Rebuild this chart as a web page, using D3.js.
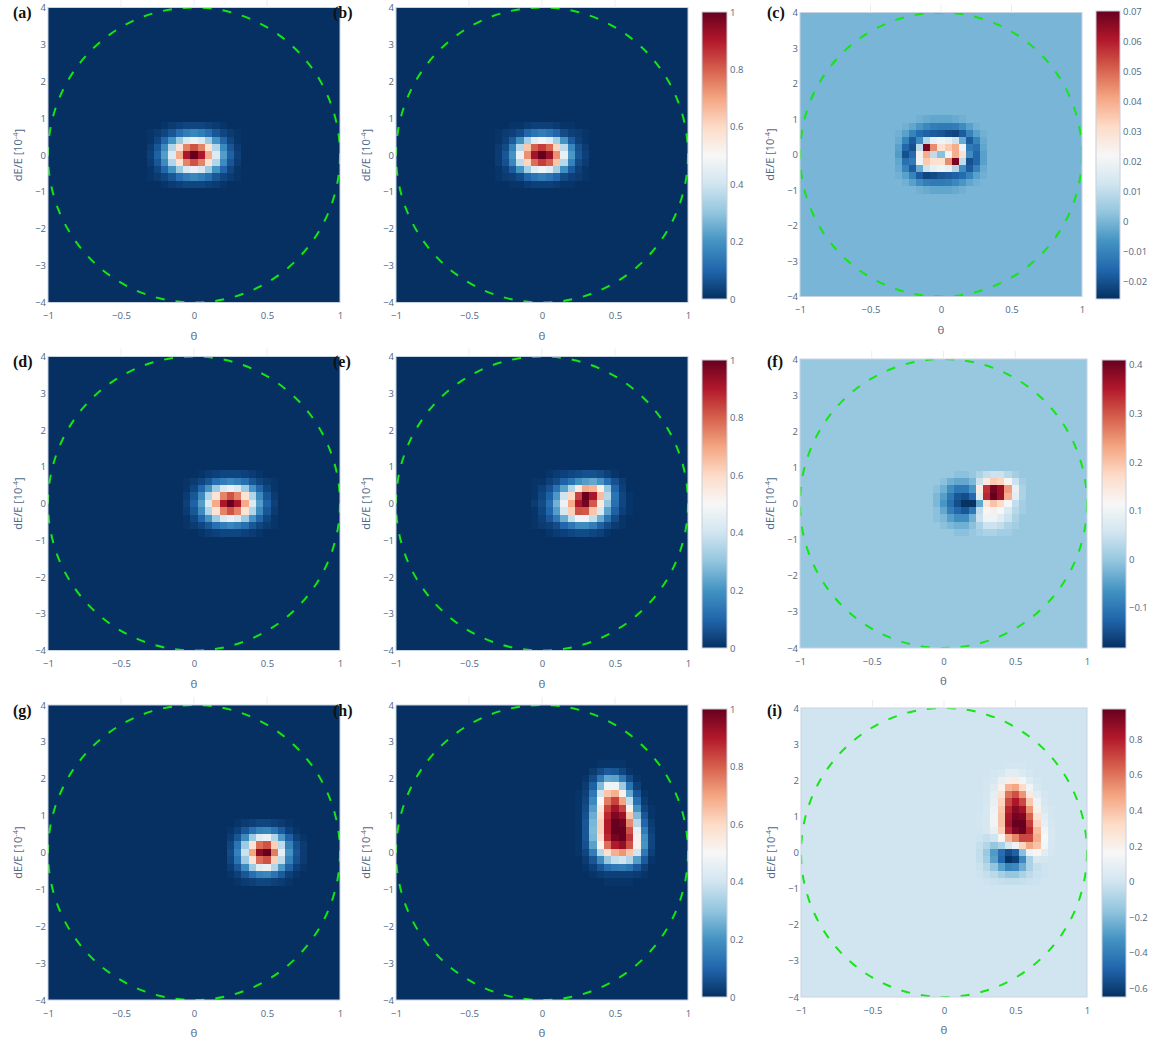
<!DOCTYPE html>
<html>
<head>
<meta charset="utf-8">
<script src="https://cdn.jsdelivr.net/npm/d3@7"></script>
<style>
  body { margin: 0; background: #fff; }
  svg text { font-family: "Open Sans", sans-serif; }
</style>
</head>
<body>
<script>
// axis ticks
const thetaTicks = [-1, -0.5, 0, 0.5, 1];
const dETicks = [-4, -3, -2, -1, 0, 1, 2, 3, 4];
const ticksUnit = [0, 0.2, 0.4, 0.6, 0.8, 1];
const ticksC = [-0.02, -0.01, 0, 0.01, 0.02, 0.03, 0.04, 0.05, 0.06, 0.07];
const ticksF = [-0.1, 0, 0.1, 0.2, 0.3, 0.4];
const ticksI = [-0.6, -0.4, -0.2, 0, 0.2, 0.4, 0.6, 0.8];

const panelNames = ["(a)", "(b)", "(c)", "(d)", "(e)", "(f)", "(g)", "(h)", "(i)"];

// heatmap cell size (theta, dE) and, per panel, centre of the first cell of the stored window
const cellTheta = 0.05;
const cellDE = 0.2;
const windowTheta = [-0.3, -0.3, -0.35, -0.05, -0.05, -0.05, 0.25, 0.25, 0.25];
const windowDE = [0.8, 0.8, 1.0, 0.8, 0.8, 0.8, 0.8, 2.4, 2.4];
// stored integers are multiplied by this
const gridUnit = [0.01, 0.01, 0.001, 0.01, 0.01, 0.01, 0.01, 0.01, 0.01];
// colour range of each panel
const colorMin = [0, 0, -0.0258, 0, 0, -0.1825, 0, 0, -0.648];
const colorMax = [1, 1, 0.0702, 1, 1, 0.41, 1, 1, 0.97];

// rows go from high dE to low dE, columns from low theta to high theta
const gridA = [
  [0, 0, 1, 2, 3, 4, 4, 4, 3, 2, 1, 0, 0],
  [1, 2, 4, 7, 12, 15, 17, 15, 12, 7, 4, 2, 1],
  [1, 4, 10, 20, 32, 42, 46, 42, 32, 20, 10, 4, 1],
  [2, 7, 18, 35, 57, 75, 82, 75, 57, 35, 18, 7, 2],
  [3, 9, 22, 43, 69, 91, 100, 91, 69, 43, 22, 9, 3],
  [2, 7, 18, 35, 57, 75, 82, 75, 57, 35, 18, 7, 2],
  [1, 4, 10, 20, 32, 42, 46, 42, 32, 20, 10, 4, 1],
  [1, 2, 4, 7, 12, 15, 17, 15, 12, 7, 4, 2, 1],
  [0, 0, 1, 2, 3, 4, 4, 4, 3, 2, 1, 0, 0]
];
const gridB = [
  [0, 0, 1, 1, 2, 3, 3, 3, 2, 1, 1, 0, 0],
  [1, 2, 3, 5, 10, 13, 15, 13, 10, 5, 3, 2, 1],
  [1, 3, 8, 19, 33, 44, 48, 44, 33, 20, 8, 3, 1],
  [2, 5, 16, 36, 64, 80, 85, 79, 61, 37, 17, 6, 2],
  [2, 7, 20, 46, 73, 92, 100, 93, 73, 46, 21, 7, 3],
  [2, 6, 17, 37, 61, 78, 85, 80, 64, 36, 16, 5, 2],
  [1, 3, 8, 20, 33, 44, 48, 44, 33, 19, 8, 3, 1],
  [1, 2, 3, 5, 10, 13, 15, 13, 10, 5, 3, 2, 1],
  [0, 0, 1, 1, 2, 3, 3, 3, 2, 1, 1, 0, 0]
];
const gridC = [
  [0, 0, 0, 0, -1, -2, -3, -3, -3, -2, -1, 0, 0, 0, 0],
  [0, 0, -1, -3, -6, -9, -11, -12, -12, -11, -8, -4, -1, 0, 0],
  [0, -1, -4, -10, -15, -17, -18, -19, -21, -22, -18, -10, -4, -1, 0],
  [0, -2, -10, -18, -8, 8, 18, 20, 18, 12, -2, -18, -10, -2, 0],
  [0, -4, -16, -20, 10, 68, 45, 30, 35, 40, 20, -12, -14, -3, 0],
  [0, -5, -20, -15, 25, 40, 10, 2, 20, 40, 30, -8, -16, -4, 0],
  [0, -3, -14, -12, 20, 35, 30, 30, 45, 68, 10, -20, -16, -4, 0],
  [0, -2, -10, -18, -2, 12, 18, 20, 18, 8, -8, -18, -10, -2, 0],
  [0, -1, -4, -10, -18, -22, -21, -19, -18, -17, -15, -10, -4, -1, 0],
  [0, 0, -1, -4, -8, -11, -12, -12, -11, -9, -6, -3, -1, 0, 0],
  [0, 0, 0, 0, -1, -2, -3, -3, -3, -2, -1, 0, 0, 0, 0]
];
const gridD = [
  [0, 0, 1, 2, 3, 4, 4, 4, 3, 2, 1, 0, 0],
  [1, 2, 4, 7, 12, 15, 17, 15, 12, 7, 4, 2, 1],
  [1, 4, 10, 20, 32, 42, 46, 42, 32, 20, 10, 4, 1],
  [2, 7, 18, 35, 57, 75, 82, 75, 57, 35, 18, 7, 2],
  [3, 9, 22, 43, 69, 91, 100, 91, 69, 43, 22, 9, 3],
  [2, 7, 18, 35, 57, 75, 82, 75, 57, 35, 18, 7, 2],
  [1, 4, 10, 20, 32, 42, 46, 42, 32, 20, 10, 4, 1],
  [1, 2, 4, 7, 12, 15, 17, 15, 12, 7, 4, 2, 1],
  [0, 0, 1, 2, 3, 4, 4, 4, 3, 2, 1, 0, 0]
];
const gridE = [
  [0, 0, 1, 2, 3, 4, 5, 6, 6, 5, 3, 1, 0, 0, 0],
  [1, 1, 3, 5, 9, 13, 19, 22, 24, 20, 12, 6, 2, 0, 0],
  [1, 3, 6, 13, 23, 35, 54, 69, 67, 53, 30, 10, 3, 0, 0],
  [1, 4, 9, 21, 40, 60, 84, 100, 91, 66, 36, 13, 4, 1, 0],
  [2, 5, 12, 26, 47, 69, 91, 98, 81, 55, 30, 12, 4, 1, 0],
  [1, 4, 10, 22, 41, 62, 82, 81, 64, 42, 23, 9, 3, 1, 0],
  [1, 3, 7, 14, 25, 38, 48, 47, 38, 25, 13, 5, 1, 0, 0],
  [1, 2, 3, 5, 10, 14, 18, 18, 15, 9, 5, 2, 1, 0, 0],
  [0, 0, 1, 2, 3, 4, 5, 5, 4, 3, 1, 0, 0, 0, 0]
];
const gridF = [
  [0, 0, 0, -1, -1, 0, 2, 4, 5, 5, 3, 1, 0, 0],
  [0, -1, -3, -4, -4, -2, 5, 14, 19, 18, 12, 5, 1, 0],
  [-1, -3, -7, -10, -10, -6, 14, 33, 40, 37, 24, 9, 2, 0],
  [-2, -5, -10, -14, -15, -12, 8, 34, 41, 37, 22, 8, 2, 0],
  [-2, -6, -11, -15, -18, -18, -4, 15, 20, 17, 11, 4, 1, 0],
  [-1, -4, -9, -12, -14, -10, 4, 12, 13, 11, 7, 3, 1, 0],
  [-1, -2, -5, -7, -7, -3, 5, 10, 10, 8, 5, 2, 0, 0],
  [0, -1, -2, -3, -3, -1, 2, 5, 5, 4, 2, 1, 0, 0],
  [0, 0, 0, -1, -1, 0, 1, 2, 2, 1, 1, 0, 0, 0]
];
const gridG = [
  [0, 1, 2, 3, 4, 4, 3, 2, 1, 0, 0],
  [1, 3, 7, 12, 16, 17, 13, 8, 3, 1, 0],
  [2, 7, 18, 32, 44, 46, 35, 21, 9, 3, 1],
  [4, 13, 32, 57, 78, 82, 62, 37, 16, 6, 2],
  [5, 16, 39, 70, 95, 100, 76, 45, 20, 7, 2],
  [4, 13, 32, 57, 78, 82, 62, 37, 16, 6, 2],
  [2, 7, 18, 32, 44, 46, 35, 21, 9, 3, 1],
  [1, 3, 7, 12, 16, 17, 13, 8, 3, 1, 0],
  [0, 1, 2, 3, 4, 4, 3, 2, 1, 0, 0]
];
const gridH = [
  [0, 0, 0, 1, 1, 1, 1, 0, 0, 0, 0, 0],
  [0, 0, 2, 5, 8, 7, 4, 1, 0, 0, 0, 0],
  [0, 1, 5, 14, 24, 23, 14, 5, 1, 0, 0, 0],
  [0, 2, 9, 28, 48, 48, 32, 13, 3, 0, 0, 0],
  [1, 3, 14, 40, 64, 68, 52, 24, 7, 1, 0, 0],
  [1, 4, 18, 50, 76, 84, 70, 38, 12, 2, 0, 0],
  [1, 5, 22, 56, 84, 92, 84, 52, 20, 4, 1, 0],
  [1, 6, 25, 60, 88, 97, 93, 64, 28, 7, 1, 0],
  [1, 7, 27, 62, 90, 100, 98, 74, 36, 10, 2, 0],
  [1, 7, 28, 62, 90, 100, 100, 82, 46, 15, 3, 0],
  [1, 7, 27, 60, 88, 98, 100, 86, 52, 19, 4, 0],
  [1, 6, 23, 52, 78, 90, 94, 82, 52, 20, 4, 0],
  [1, 4, 15, 36, 58, 68, 72, 64, 40, 14, 3, 0],
  [0, 2, 7, 18, 31, 38, 40, 35, 22, 8, 1, 0],
  [0, 1, 3, 7, 12, 14, 15, 13, 8, 3, 0, 0],
  [0, 0, 1, 2, 3, 3, 3, 3, 2, 1, 0, 0],
  [0, 0, 0, 0, 1, 1, 1, 1, 0, 0, 0, 0]
];
const gridI = [
  [0, 0, 0, 0, 1, 1, 1, 0, 0, 0, 0, 0],
  [0, 0, 1, 3, 7, 7, 4, 1, 0, 0, 0, 0],
  [0, 1, 3, 10, 22, 23, 14, 5, 1, 0, 0, 0],
  [0, 1, 5, 20, 44, 48, 32, 13, 3, 0, 0, 0],
  [0, 2, 8, 28, 60, 68, 52, 24, 7, 1, 0, 0],
  [0, 2, 10, 34, 70, 82, 70, 38, 12, 2, 0, 0],
  [0, 3, 12, 38, 78, 90, 84, 52, 20, 4, 1, 0],
  [1, 3, 13, 40, 82, 94, 92, 64, 28, 7, 1, 0],
  [1, 3, 13, 40, 84, 97, 97, 72, 34, 9, 2, 0],
  [0, 2, 10, 36, 78, 92, 96, 78, 42, 13, 3, 0],
  [-1, -3, 0, 18, 44, 56, 70, 70, 46, 16, 3, 0],
  [-3, -8, -15, -10, 2, 12, 34, 48, 40, 14, 2, 0],
  [-4, -14, -30, -46, -56, -50, -18, 12, 18, 7, 1, 0],
  [-4, -12, -28, -48, -64, -60, -36, -10, 3, 1, 0, 0],
  [-2, -7, -16, -28, -38, -36, -24, -10, -3, -1, 0, 0],
  [-1, -3, -6, -11, -15, -15, -10, -5, -2, -1, 0, 0],
  [0, -1, -2, -3, -4, -4, -3, -2, -1, 0, 0, 0]
];
const grids = [gridA, gridB, gridC, gridD, gridE, gridF, gridG, gridH, gridI];
const cbTicks = [null, ticksUnit, ticksC, null, ticksUnit, ticksF, null, ticksUnit, ticksI];

// RdBu reversed (navy -> white -> dark red)
const rdbu = ["#053061", "#2166ac", "#4393c3", "#92c5de", "#d1e5f0", "#f7f7f7",
  "#fddbc7", "#f4a582", "#d6604d", "#b2182b", "#67001f"];

const textColor = "#506784";

// plot rectangles and colorbars (pixels)
const layout = [
  { x: 48, y: 7.5, w: 292, h: 295 },
  { x: 396, y: 7.5, w: 292, h: 295, cb: { x: 702, y: 12, w: 25, h: 287 } },
  { x: 800, y: 12.5, w: 282, h: 284, cb: { x: 1096, y: 11, w: 24, h: 288 } },
  { x: 48, y: 356.5, w: 292, h: 294 },
  { x: 396, y: 356.5, w: 292, h: 294, cb: { x: 702, y: 360, w: 25, h: 288 } },
  { x: 800, y: 359, w: 287, h: 289, cb: { x: 1102, y: 360, w: 24, h: 288 } },
  { x: 48, y: 705, w: 292, h: 295 },
  { x: 396, y: 705, w: 292, h: 295, cb: { x: 702, y: 709, w: 25, h: 288 } },
  { x: 801, y: 708, w: 286, h: 289, cb: { x: 1102, y: 709, w: 24, h: 288 } }
];
const labelX = [13, 333, 767];
const labelY = [18, 367, 716];

var svg = d3
  .select("body")
  .append("svg")
  .attr("width", 1150)
  .attr("height", 1043)
  .style("background", "#fff");

var defs = svg.append("defs");

// one vertical gradient shared by every colorbar
var grad = defs
  .append("linearGradient")
  .attr("id", "cbgrad")
  .attr("x1", 0).attr("y1", 1)
  .attr("x2", 0).attr("y2", 0);
grad
  .selectAll("stop")
  .data(rdbu)
  .enter()
  .append("stop")
  .attr("offset", (d, i) => i / (rdbu.length - 1))
  .attr("stop-color", (d) => d);

var fmt = d3.format("~g");

layout.forEach(function (L, p) {
  var x = d3.scaleLinear().domain([-1, 1]).range([L.x, L.x + L.w]);
  var y = d3.scaleLinear().domain([-4, 4]).range([L.y + L.h, L.y]);

  var cmin = colorMin[p], cmax = colorMax[p];
  var color = d3
    .scaleLinear()
    .domain(d3.range(rdbu.length).map((k) => cmin + (k * (cmax - cmin)) / (rdbu.length - 1)))
    .range(rdbu)
    .clamp(true);

  defs
    .append("clipPath")
    .attr("id", "clip" + p)
    .append("rect")
    .attr("x", L.x)
    .attr("y", L.y)
    .attr("width", L.w)
    .attr("height", L.h);

  var g = svg.append("g").attr("clip-path", "url(#clip" + p + ")");

  // background of the heatmap (value 0)
  g.append("rect")
    .attr("x", x(-1))
    .attr("y", y(4))
    .attr("width", x(1) - x(-1))
    .attr("height", y(-4) - y(4))
    .attr("fill", color(0));

  var cells = [];
  grids[p].forEach(function (row, i) {
    row.forEach(function (v, j) {
      cells.push({
        th: windowTheta[p] + j * cellTheta,
        de: windowDE[p] - i * cellDE,
        v: v * gridUnit[p],
      });
    });
  });

  g.selectAll("rect.cell")
    .data(cells)
    .enter()
    .append("rect")
    .attr("class", "cell")
    .attr("x", (d) => x(d.th - cellTheta / 2))
    .attr("y", (d) => y(d.de + cellDE / 2))
    .attr("width", (d) => x(d.th + cellTheta / 2) - x(d.th - cellTheta / 2))
    .attr("height", (d) => y(d.de - cellDE / 2) - y(d.de + cellDE / 2))
    .attr("fill", (d) => color(d.v))
    .attr("shape-rendering", "crispEdges");

  // dashed boundary ellipse
  g.append("ellipse")
    .attr("cx", x(0))
    .attr("cy", y(0))
    .attr("rx", x(1) - x(0))
    .attr("ry", y(-4) - y(0))
    .attr("fill", "none")
    .attr("stroke", "#14e614")
    .attr("stroke-width", 2)
    .attr("stroke-dasharray", "9,11");

  // plot frame
  svg.append("rect")
    .attr("x", L.x)
    .attr("y", L.y)
    .attr("width", L.w)
    .attr("height", L.h)
    .attr("fill", "none")
    .attr("stroke", "#c9d3e0")
    .attr("stroke-width", 1);

  // faint grid stubs above the plot
  svg.selectAll("line.stub" + p)
    .data([-0.5, 0, 0.5])
    .enter()
    .append("line")
    .attr("x1", (d) => x(d))
    .attr("x2", (d) => x(d))
    .attr("y1", L.y - 8)
    .attr("y2", L.y)
    .attr("stroke", "#e8edf5");

  var xAxis = svg
    .append("g")
    .attr("transform", "translate(0," + (L.y + L.h) + ")")
    .call(d3.axisBottom(x).tickValues(thetaTicks).tickSize(0).tickPadding(10).tickFormat(fmt));
  var yAxis = svg
    .append("g")
    .attr("transform", "translate(" + L.x + ",0)")
    .call(d3.axisLeft(y).tickValues(dETicks).tickSize(0).tickPadding(2).tickFormat(fmt));
  [xAxis, yAxis].forEach(function (a) {
    a.select(".domain").remove();
    a.attr("font-family", null).attr("font-size", null);
    a.selectAll("text").attr("fill", textColor).style("font-size", "9.5px");
  });

  // axis titles
  svg.append("text")
    .attr("x", x(0))
    .attr("y", L.y + L.h + 37)
    .attr("text-anchor", "middle")
    .attr("fill", textColor)
    .style("font-size", "11.5px")
    .text("θ");

  var yt = svg
    .append("text")
    .attr("transform", "translate(" + (L.x - 30) + "," + (L.y + L.h / 2) + ") rotate(-90)")
    .attr("text-anchor", "middle")
    .attr("dy", "0.35em")
    .attr("fill", textColor)
    .style("font-size", "11px");
  yt.append("tspan").text("dE/E [10");
  yt.append("tspan").attr("dy", "-0.45em").style("font-size", "7.5px").text("-4");
  yt.append("tspan").attr("dy", "0.45em").text("]");

  // panel label
  svg.append("text")
    .attr("x", labelX[p % 3])
    .attr("y", labelY[Math.floor(p / 3)])
    .attr("fill", "#111")
    .style("font-family", "'Liberation Serif', 'DejaVu Serif', serif")
    .style("font-weight", "bold")
    .style("font-size", "16px")
    .text(panelNames[p]);

  // colorbar
  if (L.cb) {
    var cb = L.cb;
    svg.append("rect")
      .attr("x", cb.x)
      .attr("y", cb.y)
      .attr("width", cb.w)
      .attr("height", cb.h)
      .attr("fill", "url(#cbgrad)")
      .attr("stroke", "#c8d0dc")
      .attr("stroke-width", 1);
    var cbScale = d3.scaleLinear().domain([cmin, cmax]).range([cb.y + cb.h, cb.y]);
    var cbAxis = svg
      .append("g")
      .attr("transform", "translate(" + (cb.x + cb.w) + ",0)")
      .call(d3.axisRight(cbScale).tickValues(cbTicks[p]).tickSize(0).tickPadding(3).tickFormat(fmt));
    cbAxis.select(".domain").remove();
    cbAxis.attr("font-family", null).attr("font-size", null);
    cbAxis.selectAll("text").attr("fill", textColor).style("font-size", "9.5px");
  }
});
</script>
</body>
</html>
